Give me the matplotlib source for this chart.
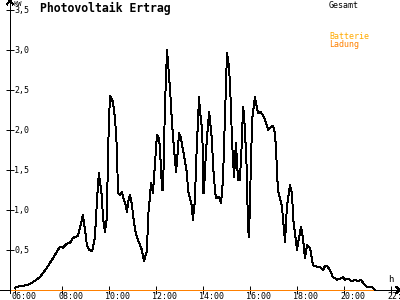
import matplotlib
matplotlib.use('Agg')
import matplotlib.pyplot as plt

# PV output over the day (hours, kW)
hours = [6.00, 6.21, 6.51, 6.77, 7.06, 7.36, 7.62, 7.91, 8.04, 8.21, 8.34, 8.47, 8.68, 8.77, 8.89,
         8.98, 9.06, 9.15, 9.28, 9.32, 9.40, 9.49, 9.57, 9.70, 9.74, 9.83, 9.91, 9.96, 10.04, 10.17,
         10.26, 10.34, 10.38, 10.47, 10.55, 10.60, 10.68, 10.77, 10.81, 10.89, 10.98, 11.02, 11.11,
         11.19, 11.32, 11.40, 11.49, 11.62, 11.66, 11.74, 11.79, 11.83, 11.87, 11.91, 11.96, 12.04,
         12.13, 12.17, 12.26, 12.30, 12.38, 12.47, 12.60, 12.68, 12.77, 12.85, 12.89, 12.98, 13.06,
         13.15, 13.32, 13.36, 13.53, 13.57, 13.66, 13.70, 13.83, 13.87, 13.96, 14.00, 14.02, 14.04,
         14.13, 14.26, 14.38, 14.43, 14.51, 14.55, 14.68, 14.77, 14.85, 14.89, 15.02, 15.11, 15.19,
         15.23, 15.32, 15.40, 15.49, 15.57, 15.66, 15.70, 15.74, 15.79, 15.87, 15.91, 15.96, 16.00,
         16.09, 16.21, 16.34, 16.43, 16.55, 16.64, 16.77, 16.85, 16.98, 17.06, 17.11, 17.15, 17.19,
         17.36, 17.49, 17.57, 17.70, 17.79, 17.83, 18.00, 18.09, 18.17, 18.26, 18.34, 18.43, 18.55,
         18.64, 18.68, 18.85, 18.98, 19.11, 19.19, 19.28, 19.40, 19.53, 19.70, 19.83, 19.96, 20.04,
         20.17, 20.34, 20.47, 20.60, 20.72, 20.81, 20.98, 21.19, 21.32]
power = [0.03, 0.05, 0.06, 0.10, 0.16, 0.28, 0.40, 0.54, 0.53, 0.58, 0.59, 0.65, 0.68, 0.78, 0.94,
         0.75, 0.56, 0.50, 0.49, 0.53, 0.66, 1.13, 1.46, 1.16, 0.91, 0.73, 0.91, 1.75, 2.43, 2.35,
         2.13, 1.75, 1.21, 1.19, 1.23, 1.16, 1.09, 0.98, 1.09, 1.19, 1.06, 0.94, 0.75,
         0.66, 0.56, 0.50, 0.36, 0.50, 0.91, 1.16, 1.34, 1.29, 1.21, 1.38, 1.59, 1.94,
         1.90, 1.75, 1.25, 1.25, 2.29, 3.00, 2.50, 2.09, 1.75, 1.48, 1.59, 1.96, 1.90,
         1.75, 1.46, 1.25, 1.04, 0.88, 1.13, 1.54, 2.41, 2.25, 2.00, 1.66, 1.21, 1.23,
         1.75, 2.23, 1.88, 1.54, 1.25, 1.15, 1.16, 1.09, 1.38, 1.75, 2.96, 2.79, 2.29,
         1.88, 1.41, 1.84, 1.38, 1.38, 1.88, 2.29, 2.21, 1.96, 1.46, 0.79, 0.66, 1.13,
         2.13, 2.41, 2.21, 2.23, 2.19, 2.13, 2.00, 2.03, 2.05, 1.96, 1.75, 1.46, 1.25,
         1.04, 0.60, 1.04, 1.31, 1.21, 0.91, 0.50, 0.66, 0.79, 0.63, 0.40, 0.56, 0.53,
         0.38, 0.31, 0.29, 0.29, 0.25, 0.30, 0.30, 0.25, 0.16, 0.13, 0.14, 0.16, 0.13,
         0.14, 0.11, 0.13, 0.11, 0.13, 0.09, 0.04, 0.04, 0.00]

# battery charging stayed at zero all day
battery_hours = [5.83, 21.32]
battery_power = [0.0, 0.0]

xticks = [6, 8, 10, 12, 14, 16, 18, 20, 22]
yticks = [0.5, 1.0, 1.5, 2.0, 2.5, 3.0, 3.5]

mono = 'DejaVu Sans Mono'
orange = '#ff8000'
lw = 0.7

fig = plt.figure(figsize=(4, 3), dpi=100)
ax = fig.add_axes([0, 0, 1, 1])
# 23.5 px per hour, 80 px per kW
ax.set_xlim(6 - 15 / 23.5, 6 + 385 / 23.5)
ax.set_ylim(-10 / 80, 290 / 80)
ax_x = 6 - 5 / 23.5

for s in ['top', 'right']:
    ax.spines[s].set_visible(False)
ax.spines['left'].set_position(('data', ax_x))
ax.spines['bottom'].set_position(('data', 0))
ax.spines['left'].set_bounds(-0.04, 290 / 80)
for s in ['left', 'bottom']:
    ax.spines[s].set_linewidth(lw)
    ax.spines[s].set_antialiased(False)

ax.set_xticks(xticks)
ax.set_yticks(yticks)
ax.tick_params(direction='inout', length=6, width=lw, labelbottom=False, labelleft=False)

ax.plot(battery_hours, battery_power, color=orange, lw=lw, antialiased=False, zorder=3)
ax.plot(hours, power, color='black', lw=lw, antialiased=False, zorder=4)

for t in xticks:
    ax.text(t - 3.5 / 23.5, -2 / 80, f'{t:02d}:00', family=mono, fontsize=6,
            ha='left', va='top')
for v in yticks:
    ax.text(ax_x + 4.5 / 23.5, v, f'{v:.1f}'.replace('.', ','), family=mono, fontsize=6,
            ha='left', va='center')

# arrow heads
ax.plot([ax_x - 3 / 23.5, ax_x, ax_x + 3 / 23.5], [3.57, 3.625, 3.57], color='black', lw=lw,
        antialiased=False, clip_on=False)
xr = 6 + 385 / 23.5
ax.plot([xr - 4 / 23.5, xr, xr - 4 / 23.5], [0.04, 0, -0.04], color='black', lw=lw,
        antialiased=False, clip_on=False)

fig.text(13 / 400, 1 - 0.5 / 300, 'KW', family=mono, fontsize=5, ha='left', va='top')
ax.text(22.0, 0.07, 'h', family=mono, fontsize=6.5, ha='center', va='bottom')

fig.text(40 / 400, 1 - 2 / 300, 'Photovoltaik Ertrag', family=mono, fontsize=8.3,
         fontweight='bold', ha='left', va='top')
fig.text(329 / 400, 1 - 1 / 300, 'Gesamt', family=mono, fontsize=6, ha='left', va='top')
fig.text(329 / 400, 1 - 32 / 300, 'Batterie', family=mono, fontsize=6, color='#ffaa00',
         ha='left', va='top')
fig.text(329 / 400, 1 - 40 / 300, 'Ladung', family=mono, fontsize=6, color=orange,
         ha='left', va='top')

fig.savefig('out.png', dpi=100)
